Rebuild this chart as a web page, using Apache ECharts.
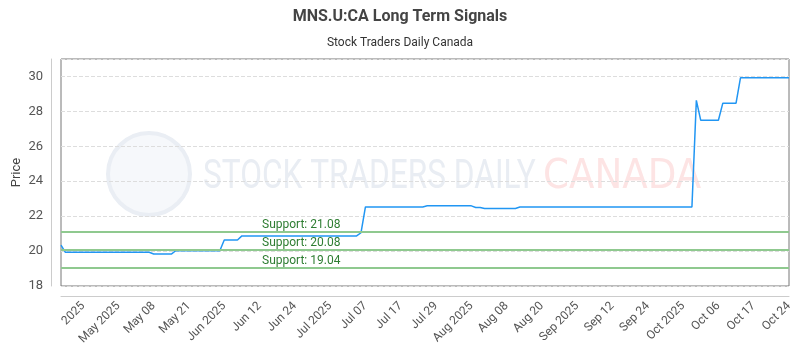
<!DOCTYPE html>
<html>
<head>
<meta charset="utf-8">
<script src="https://cdn.jsdelivr.net/npm/echarts@6/dist/echarts.min.js"></script>
<style>
    html, body { margin: 0; padding: 0; background: #fff; }
    #chart { width: 800px; height: 350px; }
</style>
</head>
<body>
<div id="chart"></div>
<script>
// labels shown under the x axis, one every 8 trading days starting at point 5
var tickLabels = ['2025', 'May 2025', 'May 08', 'May 21', 'Jun 2025', 'Jun 12', 'Jun 24', 'Jul 2025',
    'Jul 07', 'Jul 17', 'Jul 29', 'Aug 2025', 'Aug 08', 'Aug 20', 'Sep 2025', 'Sep 12', 'Sep 24',
    'Oct 2025', 'Oct 06', 'Oct 17', 'Oct 24'];
var firstTick = 5;
var tickStep = 8;

// daily close
var prices = [
    20.34,
    19.93, 19.93, 19.93, 19.93, 19.93, 19.93, 19.93, 19.93, 19.93, 19.93,
    19.93, 19.93, 19.93, 19.93, 19.93, 19.93, 19.93, 19.93, 19.93, 19.93,
    19.83, 19.83, 19.83, 19.83, 19.83,
    20.02, 20.02, 20.02, 20.02, 20.02, 20.02, 20.02, 20.02, 20.02, 20.02, 20.02,
    20.63, 20.63, 20.63, 20.63,
    20.87, 20.87, 20.87, 20.87, 20.87, 20.87, 20.87, 20.87, 20.87, 20.87,
    20.87, 20.87, 20.87, 20.87, 20.87, 20.87, 20.87, 20.87, 20.87, 20.87,
    20.87, 20.87, 20.87, 20.87, 20.87, 20.87, 20.87,
    21.05,
    22.53, 22.53, 22.53, 22.53, 22.53, 22.53, 22.53, 22.53, 22.53, 22.53, 22.53, 22.53, 22.53, 22.53,
    22.59, 22.59, 22.59, 22.59, 22.59, 22.59, 22.59, 22.59, 22.59, 22.59, 22.59,
    22.50, 22.50,
    22.44, 22.44, 22.44, 22.44, 22.44, 22.44, 22.44, 22.44,
    22.52, 22.52, 22.52, 22.52, 22.52, 22.52, 22.52, 22.52, 22.52, 22.52,
    22.52, 22.52, 22.52, 22.52, 22.52, 22.52, 22.52, 22.52, 22.52, 22.52,
    22.52, 22.52, 22.52, 22.52, 22.52, 22.52, 22.52, 22.52, 22.52, 22.52,
    22.52, 22.52, 22.52, 22.52, 22.52, 22.52, 22.52, 22.52, 22.52, 22.52,
    28.63,
    27.49, 27.49, 27.49, 27.49, 27.49,
    28.47, 28.47, 28.47, 28.47,
    29.92, 29.92, 29.92, 29.92, 29.92, 29.92, 29.92, 29.92, 29.92, 29.92, 29.92, 29.92
];

var supportLevels = [21.08, 20.08, 19.04];

var categories = [];
for (var i = 0; i < prices.length; i++) {
    var k = (i - firstTick) / tickStep;
    categories.push(k >= 0 && k === Math.floor(k) && tickLabels[k] ? tickLabels[k] : '');
}

var chart = echarts.init(document.getElementById('chart'));

var option = {
    animation: false,
    textStyle: { fontFamily: 'Roboto' },
    title: {
        text: 'MNS.U:CA Long Term Signals',
        subtext: 'Stock Traders Daily Canada',
        left: 'center',
        top: 4,
        itemGap: 12,
        textStyle: { fontSize: 16, fontWeight: 'bold', color: '#444', fontFamily: 'Roboto' },
        subtextStyle: { fontSize: 12, color: '#333', fontFamily: 'Roboto' }
    },
    graphic: [
        {
            type: 'circle',
            shape: { cx: 149, cy: 174, r: 41 },
            style: { fill: '#f6f8fb', stroke: '#eaeef4', lineWidth: 4 },
            z: 0,
            silent: true
        },
        {
            type: 'text',
            x: 203,
            y: 158,
            scaleX: 0.79,
            style: { text: 'STOCK TRADERS DAILY', fill: '#e9edf3', font: '40px Roboto' },
            z: 0,
            silent: true
        },
        {
            type: 'text',
            x: 543,
            y: 158,
            scaleX: 0.93,
            style: { text: 'CANADA', fill: '#fde4e4', font: '40px "DejaVu Sans"' },
            z: 0,
            silent: true
        }
    ],
    grid: {
        left: 61,
        right: 11,
        top: 59,
        bottom: 64,
        outerBoundsMode: 'none',
        containLabel: false,
        show: true,
        borderColor: '#777',
        borderWidth: 1
    },
    xAxis: {
        type: 'category',
        data: categories,
        boundaryGap: false,
        offset: 10,
        axisLine: { lineStyle: { color: '#ccc' } },
        axisTick: { show: false },
        axisLabel: {
            rotate: 45,
            fontSize: 12,
            color: '#555',
            margin: 8,
            interval: function (idx, val) { return val !== ''; }
        },
        splitLine: { show: false }
    },
    yAxis: {
        type: 'value',
        min: 18,
        max: 31,
        interval: 2,
        offset: 10,
        name: 'Price',
        nameLocation: 'middle',
        nameGap: 28,
        nameMoveOverlap: false,
        nameTextStyle: { fontSize: 13, color: '#444' },
        axisLine: { show: true, lineStyle: { color: '#ccc' } },
        axisTick: { show: false },
        axisLabel: {
            fontSize: 13,
            color: '#555',
            margin: 8,
            showMaxLabel: false
        },
        splitLine: { lineStyle: { color: '#ddd', type: 'dashed' } }
    },
    series: [
        {
            type: 'line',
            data: prices,
            showSymbol: false,
            lineStyle: { color: '#2196f3', width: 1.5 },
            itemStyle: { color: '#2196f3' },
            z: 3,
            markLine: {
                silent: true,
                symbol: 'none',
                lineStyle: { color: '#8fc98f', width: 2, type: 'solid' },
                label: {
                    position: 'insideStartTop',
                    distance: [201, 1],
                    color: '#2e7d32',
                    fontSize: 12,
                    formatter: function (p) { return 'Support: ' + p.value.toFixed(2); }
                },
                data: supportLevels.map(function (v) { return { yAxis: v }; })
            }
        }
    ]
};

chart.setOption(option);
</script>
</body>
</html>
